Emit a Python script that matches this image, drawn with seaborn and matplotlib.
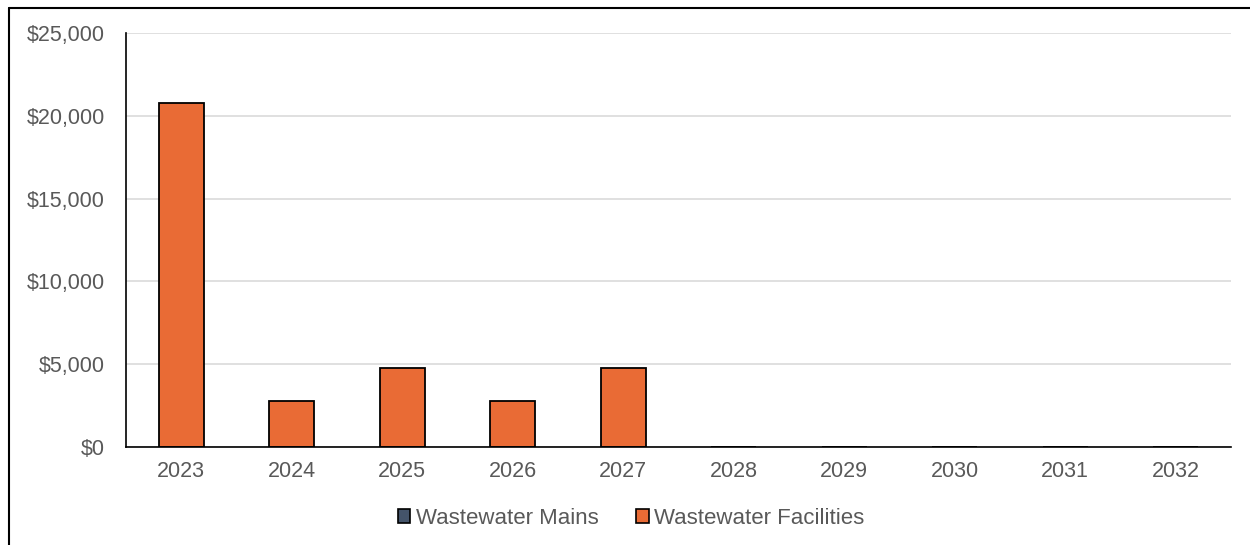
import matplotlib
matplotlib.use("Agg")
import matplotlib.pyplot as plt
from matplotlib.patches import Patch
from matplotlib.lines import Line2D
from matplotlib.ticker import FuncFormatter, MultipleLocator
import seaborn as sns
import pandas as pd

years = ["2023", "2024", "2025", "2026", "2027", "2028", "2029", "2030", "2031", "2032"]
mains = [0, 0, 0, 0, 0, 0, 0, 0, 0, 0]
facilities = [20800, 2800, 4800, 2800, 4800, 0, 0, 0, 0, 0]
series_names = ["Wastewater Mains", "Wastewater Facilities"]
series_colors = ["#44546A", "#E96B35"]

sns.set_theme(style="white")
plt.rcParams["font.family"] = ["Liberation Sans", "DejaVu Sans"]

df = pd.DataFrame({"year": years, "mains": mains, "facilities": facilities})
df["stack_top"] = df["mains"] + df["facilities"]

fig = plt.figure(figsize=(12.5, 5.45), dpi=100)
ax = fig.add_axes([0.1008, 0.1798, 0.8840, 0.7596])

# stacked columns: facilities sit on top of mains
sns.barplot(data=df, x="year", y="stack_top", color=series_colors[1],
            width=0.41, edgecolor="black", linewidth=1.3, saturation=1, ax=ax)
sns.barplot(data=df, x="year", y="mains", color=series_colors[0],
            width=0.41, edgecolor="none", linewidth=0, saturation=1, ax=ax)

ax.set_ylim(0, 25000)
ax.set_xlim(-0.5, len(years) - 0.5)
ax.yaxis.set_major_locator(MultipleLocator(5000))
ax.yaxis.set_major_formatter(FuncFormatter(lambda v, p: f"${v:,.0f}"))
ax.grid(axis="y", color="#DDDDDD", linewidth=1.3)
ax.set_axisbelow(True)
ax.set_xlabel("")
ax.set_ylabel("")
for side in ["top", "right"]:
    ax.spines[side].set_visible(False)
ax.spines["left"].set_color("black")
ax.spines["bottom"].set_color("black")
ax.spines["left"].set_linewidth(1.2)
ax.spines["bottom"].set_linewidth(1.2)
ax.tick_params(axis="both", length=0, labelsize=15.5, colors="#595959")
ax.tick_params(axis="y", pad=15)
ax.tick_params(axis="x", pad=10)

handles = [Patch(facecolor=c, edgecolor="black", linewidth=1.2) for c in series_colors]
fig.legend(handles, series_names, loc="center", bbox_to_anchor=(0.505, 0.049),
           ncol=2, frameon=False, fontsize=16, handlelength=0.55, handleheight=0.55,
           handletextpad=0.25, columnspacing=1.7, labelcolor="#595959")

# outer frame of the chart area
fig.add_artist(Line2D([0.0072, 0.0072], [0.0, 0.9853], color="black", linewidth=1.5,
                      transform=fig.transFigure))
fig.add_artist(Line2D([0.0072, 1.0], [0.9853, 0.9853], color="black", linewidth=1.5,
                      transform=fig.transFigure))

fig.savefig("out.png", dpi=100)
